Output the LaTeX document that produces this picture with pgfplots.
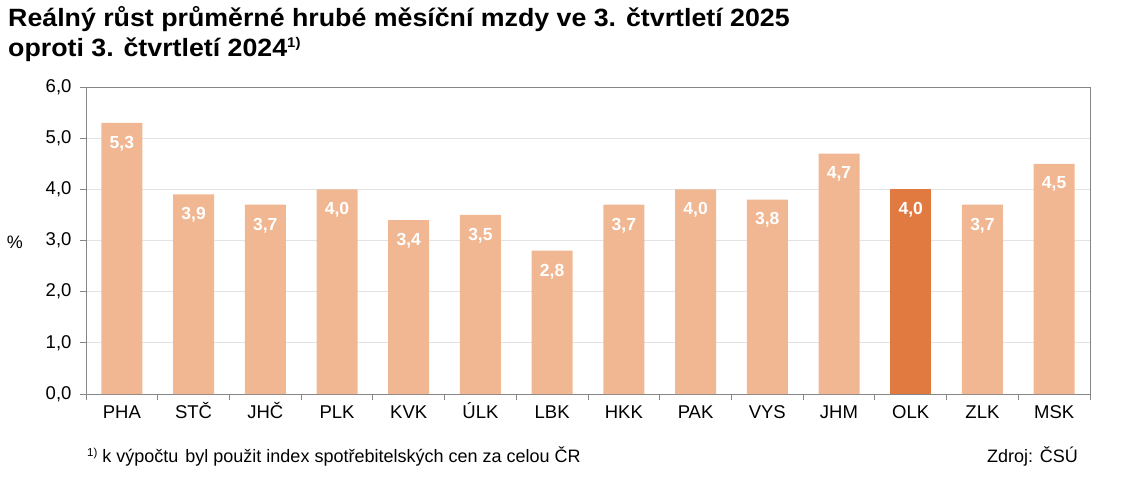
\documentclass[border=0pt]{standalone}
\usepackage{fontspec}
\setmainfont{Liberation Sans}
\usepackage{pgfplots}
\pgfplotsset{compat=1.18}
\definecolor{barlight}{HTML}{F1B792}
\definecolor{bardark}{HTML}{E07A41}
\definecolor{axgray}{HTML}{868686}
\definecolor{gridgray}{HTML}{E3E3E3}
\begin{document}
\begin{tikzpicture}
\useasboundingbox (0,0) rectangle (1123pt,483pt);
\node[anchor=base west, inner sep=0pt, font=\fontsize{25}{28}\selectfont\bfseries] at (8pt,456pt) {\scalebox{1.07}[1]{Reálný růst průměrné hrubé měsíční mzdy ve 3. čtvrtletí 2025}};
\node[anchor=base west, inner sep=0pt, font=\fontsize{25}{28}\selectfont\bfseries] at (8pt,426pt) {\scalebox{1.07}[1]{oproti 3. čtvrtletí 2024\raisebox{9pt}{\fontsize{14}{16}\selectfont 1)}}};
\node[anchor=center, inner sep=0pt, font=\fontsize{18}{20}\selectfont] at (15pt,241pt) {\%};
\node[anchor=base west, inner sep=0pt, font=\fontsize{18}{20}\selectfont] at (87pt,21pt) {\raisebox{6pt}{\fontsize{11.5}{13}\selectfont 1)} k výpočtu\hspace{7pt}byl použit index spotřebitelských cen za celou ČR};
\node[anchor=base east, inner sep=0pt, font=\fontsize{18}{20}\selectfont] at (1078pt,21pt) {Zdroj: ČSÚ};
\begin{axis}[
  at={(86pt,89pt)}, anchor=south west,
  scale only axis, width=1004pt, height=307pt,
  xmin=-0.5, xmax=13.5, ymin=0, ymax=6,
  ybar, bar width=41pt, bar shift=0pt,
  axis line style={axgray, line width=1pt},
  xtick={0,...,13},
  xticklabels={PHA,STČ,JHČ,PLK,KVK,ÚLK,LBK,HKK,PAK,VYS,JHM,OLK,ZLK,MSK},
  minor xtick={-0.5,0.5,...,13.5},
  major x tick style={draw=none},
  minor x tick style={axgray, line width=1pt},
  ytick={0,1,...,6},
  y tick style={axgray, line width=1pt},
  tick pos=left,
  tick align=outside, major tick length=6pt, minor tick length=6pt,
  ymajorgrids, grid style={gridgray, line width=0.8pt},
  y tick label style={xshift=-5pt, /pgf/number format/fixed, /pgf/number format/fixed zerofill, /pgf/number format/precision=1, /pgf/number format/use comma},
  /pgf/number format/assume math mode=true,
  ticklabel style={font=\fontsize{18.5}{20}\selectfont},
  x tick label style={yshift=-2pt, text height=13pt, text depth=3pt},
  nodes near coords={\pgfmathprintnumber[fixed, fixed zerofill, precision=1, use comma, assume math mode=true]{\pgfplotspointmeta}},
  nodes near coords style={anchor=north, yshift=-11pt, text=white, font=\fontsize{17.5}{20}\selectfont\bfseries, inner sep=2pt},
  clip=false,
]
\addplot[fill=barlight, draw=none] coordinates {
(0,5.3) (1,3.9) (2,3.7) (3,4.0) (4,3.4) (5,3.5) (6,2.8) (7,3.7) (8,4.0) (9,3.8) (10,4.7) (12,3.7) (13,4.5)};
\addplot[fill=bardark, draw=none] coordinates {(11,4.0)};
\end{axis}
\end{tikzpicture}
\end{document}
